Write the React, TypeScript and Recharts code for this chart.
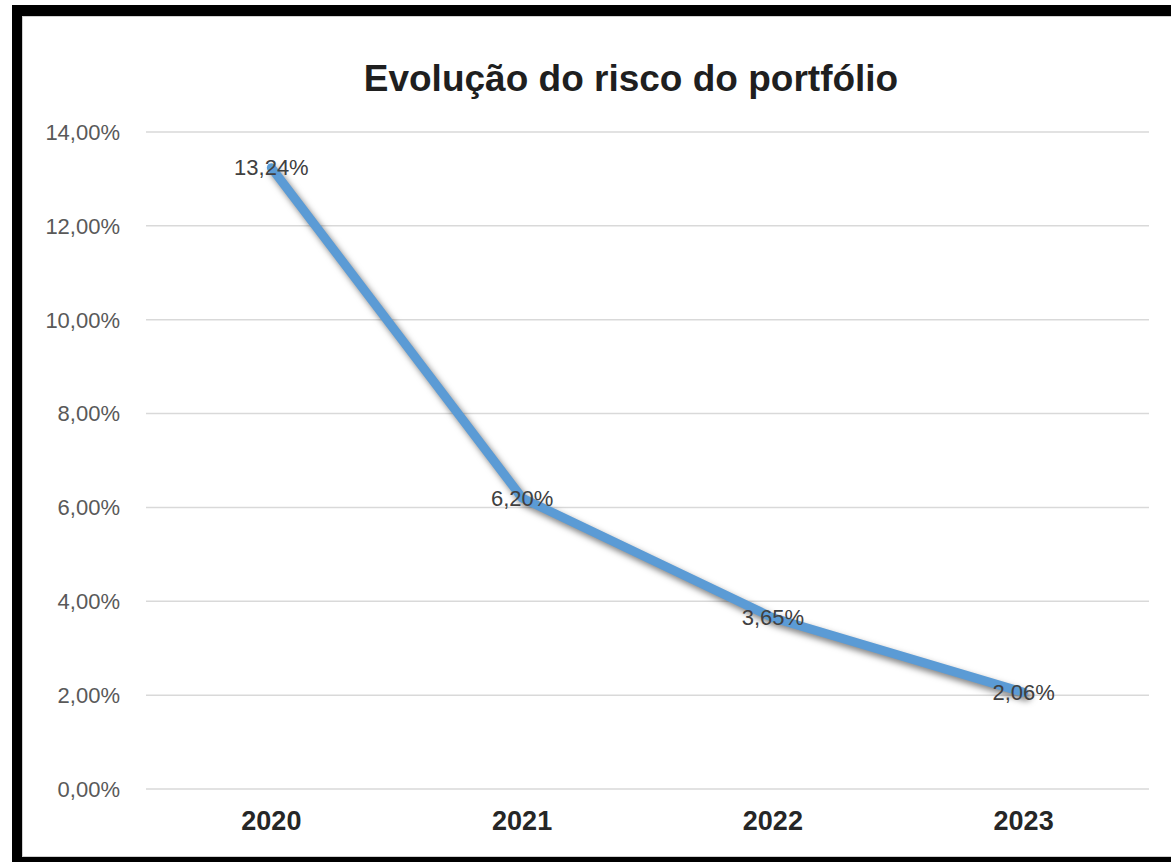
import React from 'react';
import { LineChart, Line, XAxis, YAxis, CartesianGrid, LabelList } from 'recharts';

const years = ['2020', '2021', '2022', '2023'];
const risk = [13.24, 6.2, 3.65, 2.06];
const yTicks = [0, 2, 4, 6, 8, 10, 12, 14];

const data = years.map((year, i) => ({ year, risk: risk[i] }));

const pct = (v: number) => `${v.toFixed(2).replace('.', ',')}%`;

const PointLabel = (props: any) => {
  const { x, y, value } = props;
  return (
    <text
      x={x}
      y={y}
      textAnchor="middle"
      dominantBaseline="central"
      fill="#404040"
      fontSize={22}
      fontFamily="'Liberation Sans', Arial, sans-serif"
    >
      {pct(value)}
    </text>
  );
};

export default function App() {
  return (
    <div style={{ position: 'absolute', left: 0, top: 0, width: 1171, height: 862, background: '#fff', overflow: 'hidden' }}>
      <style>{`.risk-line path { filter: drop-shadow(3px 4px 3px rgba(0,0,0,0.5)); }`}</style>
      {/* frame */}
      <div
        style={{
          position: 'absolute',
          left: 12,
          top: 5,
          width: 1200,
          height: 857,
          boxSizing: 'border-box',
          borderTop: '11px solid #000',
          borderLeft: '10px solid #000',
          borderBottom: '5px solid #000',
        }}
      >
        <div style={{ position: 'absolute', inset: 0, border: '1px solid #d0d0d0' }} />
      </div>
      <div
        style={{
          position: 'absolute',
          left: 0,
          top: 58,
          width: 1262,
          textAlign: 'center',
          fontFamily: "'Liberation Sans', Arial, sans-serif",
          fontWeight: 'bold',
          fontSize: 37,
          lineHeight: '42px',
          color: '#1f1f1f',
        }}
      >
        Evolução do risco do portfólio
      </div>
      <div style={{ position: 'absolute', left: 0, top: 0 }}>
        <LineChart width={1171} height={862} data={data} margin={{ top: 132, right: 22, bottom: 33, left: 0 }}>
          <CartesianGrid vertical={false} stroke="#d9d9d9" strokeWidth={1.5} />
          <XAxis
            dataKey="year"
            scale="band"
            axisLine={false}
            tickLine={false}
            tickSize={0}
            tickMargin={22}
            height={40}
            tick={{ fill: '#262626', fontSize: 27, fontWeight: 'bold', fontFamily: "'Liberation Sans', Arial, sans-serif" }}
          />
          <YAxis
            domain={[0, 14]}
            ticks={yTicks}
            width={146}
            axisLine={false}
            tickLine={false}
            tickSize={0}
            tickMargin={26}
            tickFormatter={pct}
            tick={{ fill: '#595959', fontSize: 22, fontFamily: "'Liberation Sans', Arial, sans-serif" }}
          />
          <Line
            className="risk-line"
            type="linear"
            dataKey="risk"
            stroke="#5b9bd5"
            strokeWidth={9}
            strokeLinecap="round"
            strokeLinejoin="round"
            dot={false}
            isAnimationActive={false}
          >
            <LabelList dataKey="risk" content={PointLabel} />
          </Line>
        </LineChart>
      </div>
    </div>
  );
}
